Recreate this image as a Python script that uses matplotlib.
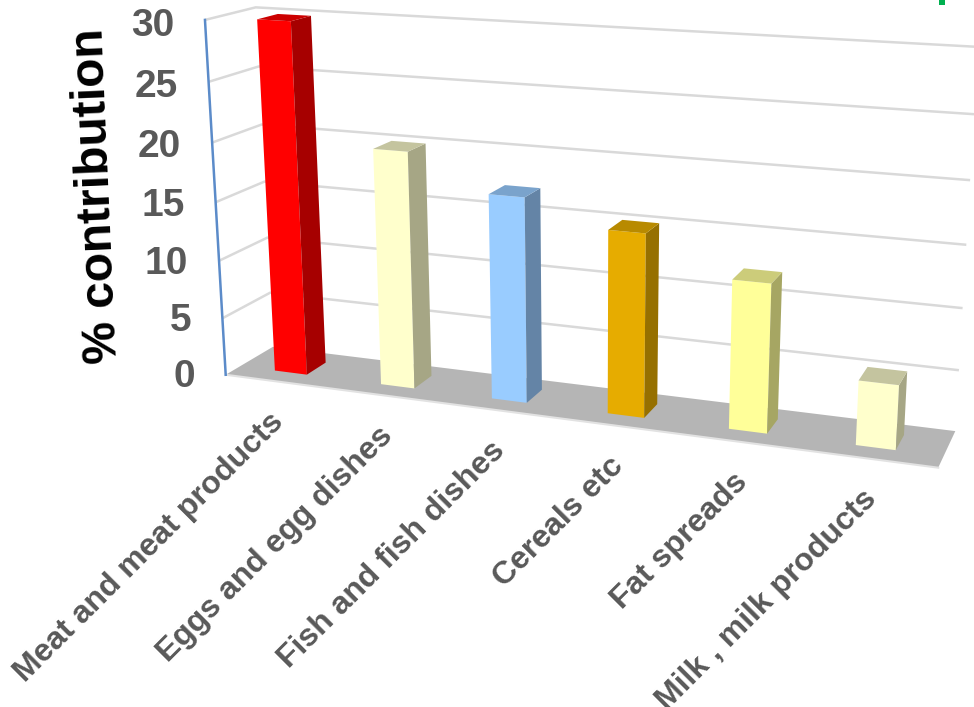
import numpy as np
import matplotlib

matplotlib.use("Agg")
import matplotlib.pyplot as plt
from matplotlib.patches import Polygon

categories = [
    "Meat and meat products",
    "Eggs and egg dishes",
    "Fish and fish dishes",
    "Cereals etc",
    "Fat spreads",
    "Milk , milk products",
]
contribution = [29.9, 20.0, 17.1, 15.1, 12.1, 5.2]
y_ticks = [0, 5, 10, 15, 20, 25, 30]

front_colors = ["#FF0000", "#FFFFCC", "#99CCFF", "#E6AC00", "#FFFF99", "#FFFFCC"]
side_colors = ["#A60000", "#A6A685", "#6484A6", "#967000", "#A6A663", "#A6A685"]
top_colors = ["#CC0000", "#C4C49F", "#7AA3CC", "#B88A00", "#CCCC7A", "#C4C49F"]

GRID = "#D9D9D9"
FLOOR = "#B5B5B5"
AXIS_BLUE = "#5B8BC9"
LABEL_GRAY = "#595959"

# chart box (u along categories, d into the page, v in % units) -> canvas pixels
calibration = [
    ((0, 0, 0), (225, 375)),
    ((1, 0, 0), (938, 468)),
    ((0, 1, 0), (273, 347)),
    ((1, 1, 0), (955, 431)),
    ((0, 0, 30), (204, 20)),
    ((0, 1, 30), (255, 8)),
    ((1, 1, 30), (978, 47)),
    ((1, 1, 5), (959, 370)),
    ((1, 1, 10), (963, 308)),
    ((0, 0, 20), (214, 142)),
    ((0, 1, 20), (262, 124)),
]


def fit_camera(pairs):
    rows, rhs = [], []
    for (u, d, v), (x, y) in pairs:
        rows.append([u, d, v, 1, 0, 0, 0, 0, -x * u, -x * d, -x * v])
        rows.append([0, 0, 0, 0, u, d, v, 1, -y * u, -y * d, -y * v])
        rhs += [x, y]
    p = np.linalg.lstsq(np.array(rows, float), np.array(rhs, float), rcond=None)[0]
    return np.append(p, 1.0).reshape(3, 4)


camera = fit_camera(calibration)


def project(u, d, v):
    x, y, w = camera @ np.array([u, d, v, 1.0])
    return x / w, y / w


def quad(ax, corners, color, zorder):
    ax.add_patch(Polygon([project(*c) for c in corners], closed=True,
                         facecolor=color, edgecolor="none", zorder=zorder))


fig = plt.figure(figsize=(9.74, 7.07), dpi=100)
plt.rcParams["font.family"] = ["Liberation Sans", "DejaVu Sans"]
ax = fig.add_axes([0, 0, 1, 1])
ax.set_xlim(0, 974)
ax.set_ylim(707, 0)
ax.axis("off")

# floor
quad(ax, [(0, 0, 0), (1, 0, 0), (1, 1, 0), (0, 1, 0)], FLOOR, 1)
edge = [project(0, 0, 0), project(1, 0, 0)]
ax.plot(*zip(*edge), color="#E2E2E2", lw=1.5, zorder=1.5)

# gridlines on side and back walls
for v in y_ticks[1:]:
    pts = [project(0, 0, v), project(0, 1, v), project(1, 1, v)]
    ax.plot(*zip(*pts), color=GRID, lw=1.8, zorder=2, solid_capstyle="butt")

# value axis
axis_pts = [project(0, 0, 0), project(0, 0, 30)]
ax.plot(*zip(*axis_pts), color=AXIS_BLUE, lw=1.8, zorder=3)

for v in y_ticks:
    x, y = project(0, 0, v)
    ax.text(x - 31, y + 2 + v * 0.13, str(v), ha="right", va="center", fontsize=28,
            fontweight="bold", color=LABEL_GRAY)

# axis title leans a little to the left
ax.text(109.5, 195, "% contribution", rotation=92.5, rotation_mode="anchor",
        ha="center", va="baseline", fontsize=34.5, fontweight="bold", color="black")

# bars
d0, d1 = 0.3, 0.72
half = 0.0255
n = len(categories)
for i, val in enumerate(contribution):
    uc = (i + 0.5) / n
    u0, u1 = uc - half - 0.002, uc + half - 0.002
    quad(ax, [(u0, d0, 0), (u1, d0, 0), (u1, d0, val), (u0, d0, val)], front_colors[i], 5)
    quad(ax, [(u1, d0, 0), (u1, d1, 0), (u1, d1, val), (u1, d0, val)], side_colors[i], 5)
    quad(ax, [(u0, d0, val), (u1, d0, val), (u1, d1, val), (u0, d1, val)], top_colors[i], 5)

    x, y = project(uc, 0, 0)
    ax.text(x - 9, y + 25, categories[i], rotation=45, rotation_mode="anchor",
            ha="right", va="top", fontsize=23, fontweight="bold", color=LABEL_GRAY)

# stray green marker cut off by the top edge
ax.add_patch(Polygon([(939, 0), (945, 0), (945, 5), (939, 5)], closed=True,
                     facecolor="#00B050", edgecolor="none", zorder=6))

fig.savefig("out.png", dpi=100)
plt.close(fig)
